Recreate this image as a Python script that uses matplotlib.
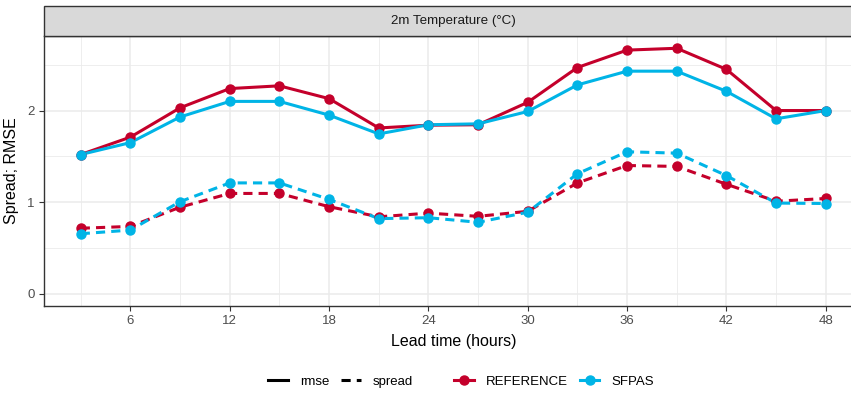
import numpy as np
import matplotlib
matplotlib.use("Agg")
import matplotlib.pyplot as plt
from matplotlib.lines import Line2D
from matplotlib.patches import Rectangle

plt.rcParams["font.family"] = ["Liberation Sans", "DejaVu Sans"]

# ── data ─────────────────────────────────────────────────────
lead_time = [3, 6, 9, 12, 15, 18, 21, 24, 27, 30, 33, 36, 39, 42, 45, 48]

rmse_reference = [1.52, 1.71, 2.03, 2.24, 2.27, 2.13, 1.81, 1.84, 1.845, 2.09,
                  2.47, 2.66, 2.68, 2.45, 2.00, 2.00]
rmse_sfpas = [1.52, 1.65, 1.93, 2.10, 2.10, 1.95, 1.745, 1.845, 1.855, 1.99,
              2.28, 2.43, 2.43, 2.21, 1.91, 2.00]
spread_reference = [0.715, 0.735, 0.945, 1.095, 1.095, 0.95, 0.84, 0.88, 0.845, 0.90,
                    1.21, 1.40, 1.39, 1.195, 1.01, 1.04]
spread_sfpas = [0.655, 0.695, 1.005, 1.21, 1.21, 1.03, 0.82, 0.83, 0.78, 0.89,
                1.31, 1.55, 1.535, 1.29, 0.99, 0.985]

x_ticks = [6, 12, 18, 24, 30, 36, 42, 48]
y_ticks = [0, 1, 2]

RED = "#C4002B"
BLUE = "#00B4E6"
GRID = "#EBEBEB"
DASH = (0, (3, 2))

W, H = 851, 393
# panel runs past the right edge of the image, as in the original
P_LEFT, P_RIGHT, P_TOP, P_BOTTOM = 43.5, 863, 36, 306

fig = plt.figure(figsize=(W / 100, H / 100), dpi=100)
ax = fig.add_axes([P_LEFT / W, 1 - P_BOTTOM / H,
                   (P_RIGHT - P_LEFT) / W, (P_BOTTOM - P_TOP) / H])

# ── lines, then points ──────────────────────────────────────
lw = 2.2
ax.plot(lead_time, rmse_reference, color=RED, lw=lw, zorder=3)
ax.plot(lead_time, rmse_sfpas, color=BLUE, lw=lw, zorder=3)
ax.plot(lead_time, spread_reference, color=RED, lw=lw, ls=DASH, zorder=3)
ax.plot(lead_time, spread_sfpas, color=BLUE, lw=lw, ls=DASH, zorder=3)
for ys, c in [(rmse_reference, RED), (spread_reference, RED),
              (rmse_sfpas, BLUE), (spread_sfpas, BLUE)]:
    ax.plot(lead_time, ys, ls="none", marker="o", ms=6.5, color=c, zorder=4)

# ── scales (ggplot-like 5% expansion, y includes 0) ─────────
x0, x1 = min(lead_time), max(lead_time)
ax.set_xlim(x0 - 0.05 * (x1 - x0), x1 + 0.05 * (x1 - x0))
ymax = max(max(rmse_reference), max(rmse_sfpas))
ax.set_ylim(-0.05 * ymax, ymax * 1.05)

ax.set_xticks(x_ticks)
ax.set_yticks(y_ticks)
ax.set_xticks([3, 9, 15, 21, 27, 33, 39, 45], minor=True)
ax.set_yticks([0.5, 1.5, 2.5], minor=True)
ax.grid(which="major", color=GRID, lw=1.1, zorder=0)
ax.grid(which="minor", color=GRID, lw=0.6, zorder=0)
ax.set_axisbelow(True)
ax.tick_params(which="major", length=3.5, width=0.8, color="#333333",
               labelsize=9.5, labelcolor="#4D4D4D", pad=3)
ax.tick_params(which="minor", length=0)
for s in ax.spines.values():
    s.set_color("#333333")
    s.set_linewidth(1.0)

ax.set_xlabel("Lead time (hours)", fontsize=11.5, color="black", labelpad=5)
ax.set_ylabel("Spread; RMSE", fontsize=11.5, color="black", labelpad=6)

# ── facet strip ─────────────────────────────────────────────
strip = Rectangle((P_LEFT / W, 1 - P_TOP / H), (P_RIGHT - P_LEFT) / W, 30 / H,
                  transform=fig.transFigure, facecolor="#D9D9D9",
                  edgecolor="#333333", lw=1.0)
fig.patches.append(strip)
fig.text((P_LEFT + P_RIGHT) / 2 / W, 1 - 21 / H, "2m Temperature (\u00b0C)",
         ha="center", va="center", fontsize=9.6, color="#1A1A1A")

# ── legends ─────────────────────────────────────────────────
lt_handles = [Line2D([], [], color="black", lw=lw),
              Line2D([], [], color="black", lw=lw, ls=DASH)]
col_handles = [Line2D([], [], color=RED, lw=lw, marker="o", ms=6.5),
               Line2D([], [], color=BLUE, lw=lw, marker="o", ms=6.5)]
leg_kw = dict(loc="center", ncol=2, frameon=False, fontsize=9.5,
              handlelength=1.5, handletextpad=0.9, columnspacing=0.9)
fig.legend(lt_handles, ["rmse", "spread"], bbox_to_anchor=(0.40, 0.028), **leg_kw)
fig.legend(col_handles, ["REFERENCE", "SFPAS"], bbox_to_anchor=(0.651, 0.028), **leg_kw)

fig.savefig("out.png", dpi=100)
